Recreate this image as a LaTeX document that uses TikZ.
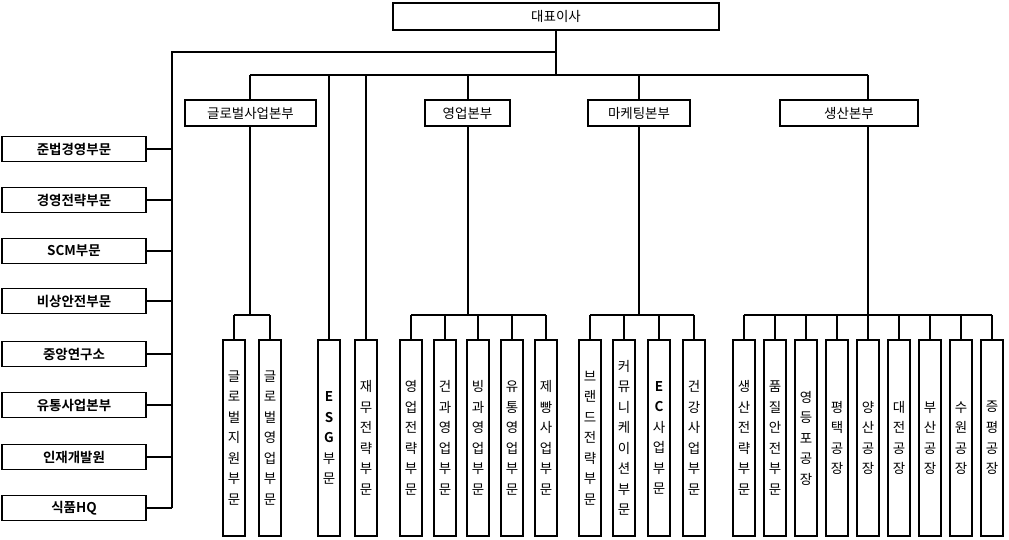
\documentclass[tikz,border=0pt]{standalone}
\usepackage{fontspec}
\setmainfont{Noto Sans CJK KR}[BoldFont={* Bold}]
\begin{document}
\begin{tikzpicture}[x=0.03cm,y=-0.03cm,line width=1.5pt,
 box/.style={draw,fill=white,inner sep=0pt,font=\fontsize{11.5}{12}\selectfont},
 vbox/.style={draw,fill=white,inner sep=0pt,minimum width=22*0.03cm,minimum height=196*0.03cm,align=center,font=\fontsize{11.5}{17.5}\selectfont}]
\useasboundingbox (0,0) rectangle (1009,540);
\def\bx#1#2#3#4#5#6{\node[box,minimum width={(#4-#2)*0.03cm},minimum height={(#5-#3)*0.03cm}] (#1) at ({(#2+#4)/2},{(#3+#5)/2}) {#6};}
\bx{ceo}{393}{3}{719}{30}{대표이사}
\bx{g1}{185}{100}{316}{126}{글로벌사업본부}
\bx{g2}{425}{100}{510}{126}{영업본부}
\bx{g3}{588}{100}{690}{126}{마케팅본부}
\bx{g4}{780}{100}{918}{126}{생산본부}
\foreach \n/\t/\y in {l1/준법경영부문/149,l2/경영전략부문/200,l3/SCM부문/251,l4/비상안전부문/301,l5/중앙연구소/354,l6/유통사업본부/405,l7/인재개발원/457,l8/식품HQ/508}{
 \node[box,minimum width=144*0.03cm,minimum height=25*0.03cm,font=\fontsize{11.5}{12}\bfseries] (\n) at (74,\y) {\t};
 \coordinate (c\n) at (172,\y);
}
\coordinate (t2) at (172,52);
\draw (ceo.south) |- (t2) -- (cl8);
\draw (ceo.south) -- (556,75);
\draw (250,75) -- (868,75);
\foreach \n in {l1,l2,l3,l4,l5,l6,l7,l8}{\draw (\n.east) -- (c\n);}
\def\vb#1#2#3{\node[vbox] (#1) at (#2,438) {#3};}
\vb{a1}{234}{글\\로\\벌\\지\\원\\부\\문}
\vb{a2}{270}{글\\로\\벌\\영\\업\\부\\문}
\vb{e1}{329}{\textbf{E}\\\textbf{S}\\\textbf{G}\\부\\문}
\vb{e2}{366}{재\\무\\전\\략\\부\\문}
\vb{b1}{411}{영\\업\\전\\략\\부\\문}
\vb{b2}{445}{건\\과\\영\\업\\부\\문}
\vb{b3}{478}{빙\\과\\영\\업\\부\\문}
\vb{b4}{512}{유\\통\\영\\업\\부\\문}
\vb{b5}{546}{제\\빵\\사\\업\\부\\문}
\vb{m1}{590}{브\\랜\\드\\전\\략\\부\\문}
\vb{m2}{624}{커\\뮤\\니\\케\\이\\션\\부\\문}
\vb{m3}{659}{\textbf{E}\\\textbf{C}\\사\\업\\부\\문}
\vb{m4}{694}{건\\강\\사\\업\\부\\문}
\vb{p1}{744}{생\\산\\전\\략\\부\\문}
\vb{p2}{775}{품\\질\\안\\전\\부\\문}
\vb{p3}{806}{영\\등\\포\\공\\장}
\vb{p4}{837}{평\\택\\공\\장}
\vb{p5}{868}{양\\산\\공\\장}
\vb{p6}{899}{대\\전\\공\\장}
\vb{p7}{930}{부\\산\\공\\장}
\vb{p8}{961}{수\\원\\공\\장}
\vb{p9}{992}{증\\평\\공\\장}
\foreach \g/\x in {g1/250,g2/468,g3/639,g4/868}{\draw (\x,75) -- (\x,100); \draw (\x,126) -- (\x,315);}
\draw (329,75) -- (e1.north);
\draw (366,75) -- (e2.north);
\foreach \f/\l/\L in {a1/a2/{a1,a2},b1/b5/{b1,b2,b3,b4,b5},m1/m4/{m1,m2,m3,m4},p1/p9/{p1,p2,p3,p4,p5,p6,p7,p8,p9}}{
 \draw (\f.north|-0,315) -- (\l.north|-0,315);
 \foreach \c in \L {\draw (\c.north|-0,315) -- (\c.north);}
}
\end{tikzpicture}
\end{document}
